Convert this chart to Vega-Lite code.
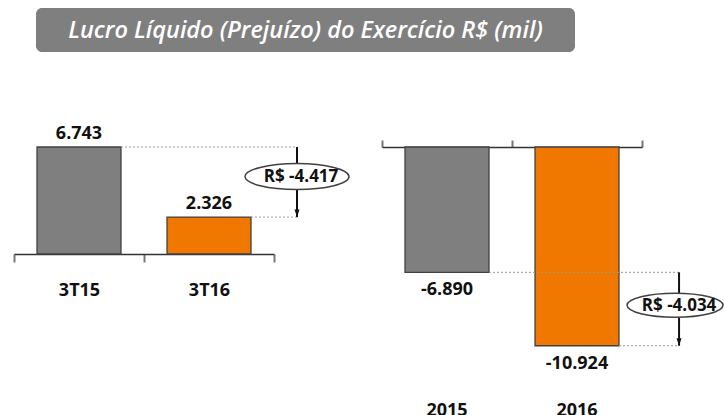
{
  "$schema": "https://vega.github.io/schema/vega-lite/v6.json",
  "padding": {"left": 13, "top": 8, "right": 0, "bottom": 0},
  "config": {
    "view": {"stroke": null},
    "font": "Open Sans",
    "locale": {"number": {"decimal": ",", "thousands": ".", "grouping": [3], "currency": ["R$ ", ""], "minus": "-"}}
  },
  "datasets": {
    "titulo": [{"texto": "Lucro Líquido (Prejuízo) do Exercício R$ (mil)"}],
    "trimestre": [{"periodo": "3T15", "lucro": 6743}, {"periodo": "3T16", "lucro": 2326}],
    "ano": [{"periodo": "2015", "lucro": -6890}, {"periodo": "2016", "lucro": -10924}],
    "var_trimestre": [{"periodo": "3T16", "de": 6743, "para": 2326, "variacao": "R$ -4.417"}],
    "var_ano": [{"periodo": "2016", "de": -6890, "para": -10924, "variacao": "R$ -4.034"}]
  },
  "spacing": 73,
  "vconcat": [
    {
      "data": {"name": "titulo"},
      "width": 561,
      "height": 44,
      "encoding": {
        "x": {"field": "texto", "type": "nominal", "axis": null,
          "scale": {"paddingInner": 0, "paddingOuter": 0.0204, "align": 1}}
      },
      "layer": [
        {"mark": {"type": "rect", "color": "#7f7f7f", "cornerRadius": 6}},
        {
          "mark": {"type": "text", "color": "white", "fontStyle": "italic", "fontWeight": 600, "fontSize": 23.5, "baseline": "middle", "font": "Open Sans", "dy": 1},
          "encoding": {"text": {"field": "texto"}}
        }
      ]
    },
    {
      "bounds": "flush",
      "spacing": 108,
      "hconcat": [
        {
          "width": 260,
          "height": 107,
          "layer": [
            {
              "data": {"name": "trimestre"},
              "mark": {"type": "bar", "width": {"band": 0.646}, "stroke": "#404040", "strokeWidth": 1.3},
              "encoding": {
                "x": {"field": "periodo", "type": "nominal", "sort": null,
                  "scale": {"paddingInner": 0, "paddingOuter": 0},
                  "axis": {"title": null, "labelAngle": 0, "tickBand": "extent", "domainColor": "#333333", "domainWidth": 1.5, "tickColor": "#777777", "tickWidth": 2, "tickSize": 8, "labelFont": "Open Sans", "labelFontWeight": "bold", "labelFontSize": 18, "labelColor": "#111111", "labelPadding": 19}},
                "y": {"field": "lucro", "type": "quantitative", "scale": {"domain": [0, 6743], "nice": false}, "axis": null},
                "color": {"field": "periodo", "type": "nominal", "scale": {"range": ["#7f7f7f", "#f07800"]}, "legend": null}
              }
            },
            {
              "data": {"name": "trimestre"},
              "mark": {"type": "text", "baseline": "alphabetic", "dy": -8, "fontWeight": "bold", "fontSize": 18, "color": "#111111"},
              "encoding": {
                "x": {"field": "periodo", "type": "nominal"},
                "y": {"field": "lucro", "type": "quantitative"},
                "text": {"field": "lucro", "type": "quantitative", "format": ",.0f"}
              }
            },
            {
              "data": {"name": "trimestre"},
              "mark": {"type": "rule", "color": "#999999", "strokeDash": [2, 2], "strokeWidth": 1},
              "encoding": {
                "x": {"field": "periodo", "type": "nominal", "bandPosition": 0.823},
                "x2": {"datum": "3T16", "bandPosition": 1.177},
                "y": {"field": "lucro", "type": "quantitative"}
              }
            },
            {
              "data": {"name": "var_trimestre"},
              "mark": {"type": "rule", "color": "#111111", "strokeWidth": 2},
              "encoding": {
                "x": {"field": "periodo", "type": "nominal", "bandPosition": 1.177},
                "y": {"field": "de", "type": "quantitative"},
                "y2": {"field": "para"}
              }
            },
            {
              "data": {"name": "var_trimestre"},
              "mark": {"type": "point", "shape": "M-1,-3L1,-3L0,0Z", "size": 25, "filled": true, "color": "#111111", "opacity": 1},
              "encoding": {
                "x": {"field": "periodo", "type": "nominal", "bandPosition": 1.177},
                "y": {"field": "para", "type": "quantitative"}
              }
            },
            {
              "data": {"name": "var_trimestre"},
              "mark": {"type": "point", "shape": "M-2,0A2,0.5,0,1,0,2,0A2,0.5,0,1,0,-2,0Z", "size": 2704, "filled": true, "color": "white", "stroke": "#404040", "strokeWidth": 1.5, "opacity": 1, "yOffset": -40.5},
              "encoding": {
                "x": {"field": "periodo", "type": "nominal", "bandPosition": 1.177},
                "y": {"field": "para", "type": "quantitative"}
              }
            },
            {
              "data": {"name": "var_trimestre"},
              "mark": {"type": "text", "fontWeight": "bold", "fontSize": 17, "color": "#111111", "baseline": "middle", "yOffset": -40, "dx": 4},
              "encoding": {
                "x": {"field": "periodo", "type": "nominal", "bandPosition": 1.177},
                "y": {"field": "para", "type": "quantitative"},
                "text": {"field": "variacao"}
              }
            }
          ]
        },
        {
          "width": 260,
          "height": 240,
          "resolve": {"axis": {"x": "independent"}},
          "layer": [
            {
              "data": {"name": "ano"},
              "mark": {"type": "bar", "width": {"band": 0.646}, "stroke": "#404040", "strokeWidth": 1.3},
              "encoding": {
                "x": {"field": "periodo", "type": "nominal", "sort": null,
                  "scale": {"paddingInner": 0, "paddingOuter": 0},
                  "axis": {"orient": "top", "title": null, "labels": false, "tickBand": "extent", "domainColor": "#333333", "domainWidth": 1.5, "tickColor": "#777777", "tickWidth": 2, "tickSize": 7}},
                "y": {"field": "lucro", "type": "quantitative", "scale": {"domain": [-13192, 0], "nice": false}, "axis": null},
                "color": {"field": "periodo", "type": "nominal", "scale": {"range": ["#7f7f7f", "#f07800"]}, "legend": null}
              }
            },
            {
              "data": {"name": "ano"},
              "mark": {"type": "text", "baseline": "alphabetic", "dy": 23, "fontWeight": "bold", "fontSize": 18, "color": "#111111"},
              "encoding": {
                "x": {"field": "periodo", "type": "nominal", "sort": null,
                  "axis": {"orient": "bottom", "title": null, "labelAngle": 0, "domain": false, "ticks": false, "tickSize": 0, "labelFont": "Open Sans", "labelFontWeight": "bold", "labelFontSize": 18, "labelColor": "#111111", "labelPadding": 14}},
                "y": {"field": "lucro", "type": "quantitative"},
                "text": {"field": "lucro", "type": "quantitative", "format": ",.0f"}
              }
            },
            {
              "data": {"name": "ano"},
              "mark": {"type": "rule", "color": "#999999", "strokeDash": [2, 2], "strokeWidth": 1},
              "encoding": {
                "x": {"field": "periodo", "type": "nominal", "bandPosition": 0.823, "axis": null},
                "x2": {"datum": "2016", "bandPosition": 1.285},
                "y": {"field": "lucro", "type": "quantitative"}
              }
            },
            {
              "data": {"name": "var_ano"},
              "mark": {"type": "rule", "color": "#111111", "strokeWidth": 2},
              "encoding": {
                "x": {"field": "periodo", "type": "nominal", "bandPosition": 1.285, "axis": null},
                "y": {"field": "de", "type": "quantitative"},
                "y2": {"field": "para"}
              }
            },
            {
              "data": {"name": "var_ano"},
              "mark": {"type": "point", "shape": "M-1,-3L1,-3L0,0Z", "size": 25, "filled": true, "color": "#111111", "opacity": 1},
              "encoding": {
                "x": {"field": "periodo", "type": "nominal", "bandPosition": 1.285, "axis": null},
                "y": {"field": "para", "type": "quantitative"}
              }
            },
            {
              "data": {"name": "var_ano"},
              "mark": {"type": "point", "shape": "M-2,0A2,0.5,0,1,0,2,0A2,0.5,0,1,0,-2,0Z", "size": 2304, "filled": true, "color": "white", "stroke": "#404040", "strokeWidth": 1.5, "opacity": 1, "yOffset": -40.5, "xOffset": -4},
              "encoding": {
                "x": {"field": "periodo", "type": "nominal", "bandPosition": 1.285, "axis": null},
                "y": {"field": "para", "type": "quantitative"}
              }
            },
            {
              "data": {"name": "var_ano"},
              "mark": {"type": "text", "fontWeight": "bold", "fontSize": 17, "color": "#111111", "baseline": "middle", "yOffset": -40, "dx": 0},
              "encoding": {
                "x": {"field": "periodo", "type": "nominal", "bandPosition": 1.285, "axis": null},
                "y": {"field": "para", "type": "quantitative"},
                "text": {"field": "variacao"}
              }
            }
          ]
        }
      ]
    }
  ]
}
